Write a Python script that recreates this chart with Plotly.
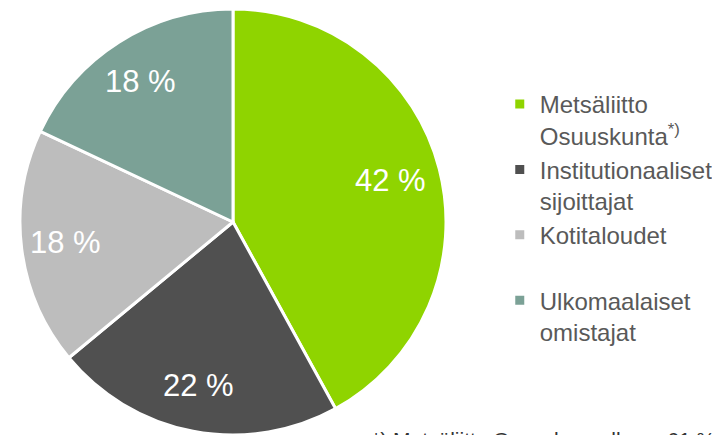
import math
import plotly.graph_objects as go

# Ownership split (share of shares, %)
labels = [
    "Metsäliitto<br>Osuuskunta<sup>*)</sup>",
    "Institutionaaliset<br>sijoittajat",
    "Kotitaloudet<br> ",
    "Ulkomaalaiset<br>omistajat",
]
values = [42, 22, 18, 18]
colors = ["#8FD400", "#505050", "#BDBDBD", "#7BA196"]
footnote = "*) Metsäliitto Osuuskunnalla on 61 % äänistä"

FONT = "Arial, Liberation Sans, sans-serif"
W, H = 720, 435

# pie placement in figure pixels (page has an 8px body margin)
cx, cy, R = 225, 214, 213

pie = go.Pie(
    labels=labels,
    values=values,
    sort=False,
    direction="clockwise",
    rotation=0,
    marker=dict(colors=colors, line=dict(color="white", width=3)),
    textinfo="none",
    domain=dict(x=[(cx - R) / W, (cx + R) / W], y=[1 - (cy + R) / H, 1 - (cy - R) / H]),
    hoverinfo="label+percent",
)

# slice labels placed at mid-angle of each slice
annotations = []
total = sum(values)
start = 0
for v in values:
    mid = (start + v / 2) / total * 2 * math.pi
    start += v
    px = cx - 3 + 0.78 * R * math.sin(mid)
    py = cy - 0.78 * R * math.cos(mid)
    annotations.append(dict(
        text=f"{v} %", x=px / W, y=1 - py / H, xref="paper", yref="paper",
        xanchor="center", yanchor="middle",
        showarrow=False, font=dict(family=FONT, size=31, color="white"),
    ))

annotations.append(dict(
    text=footnote,
    x=362 / W,
    y=1 - 418 / H,
    xref="paper",
    yref="paper",
    xanchor="left",
    yanchor="top",
    showarrow=False,
    font=dict(family=FONT, size=21, color="#333333"),
))

fig = go.Figure(data=[pie])
fig.update_layout(
    width=W,
    height=H,
    margin=dict(l=0, r=0, t=0, b=0),
    paper_bgcolor="white",
    plot_bgcolor="white",
    showlegend=True,
    legend=dict(
        x=0.683,
        y=0.83,
        xanchor="left",
        yanchor="top",
        valign="top",
        font=dict(family=FONT, size=24, color="#595959"),
        tracegroupgap=0,
    ),
    annotations=annotations,
)

fig.write_html("out.html")
